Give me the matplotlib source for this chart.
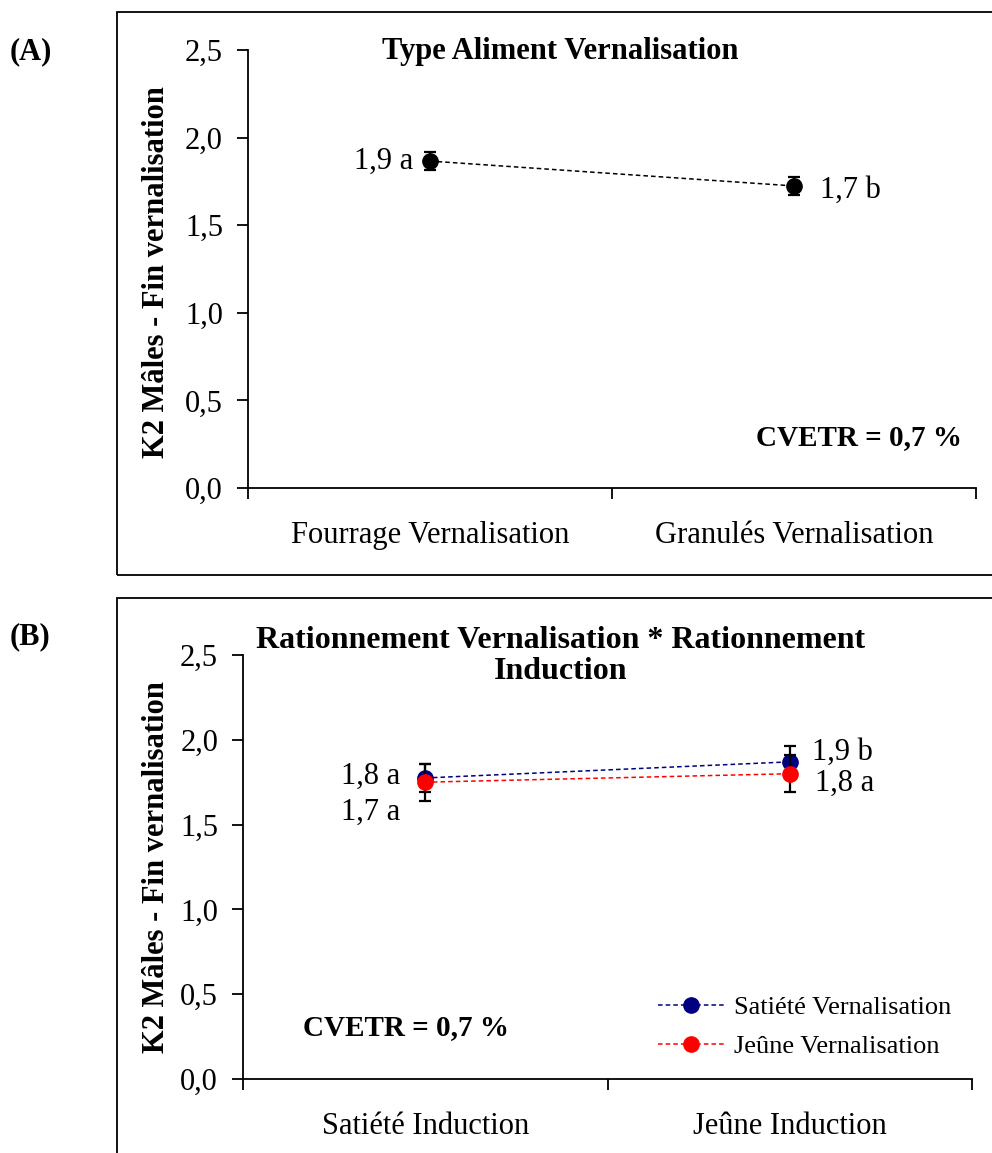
import matplotlib.pyplot as plt
from matplotlib.patches import Rectangle

plt.rcParams['font.family'] = ['Liberation Serif', 'DejaVu Serif']

# panel A data
aliment_cats = ['Fourrage Vernalisation', 'Granulés Vernalisation']
aliment_means = [1.866, 1.724]
aliment_err = [0.05, 0.05]
aliment_labels = ['1,9 a', '1,7 b']

# panel B data
induction_cats = ['Satiété Induction', 'Jeûne Induction']
satiete_means = [1.775, 1.87]
satiete_err = [0.08, 0.095]
satiete_labels = ['1,8 a', '1,9 b']
jeune_means = [1.75, 1.80]
jeune_err = [0.11, 0.11]
jeune_labels = ['1,7 a', '1,8 a']

yticks = [0.0, 0.5, 1.0, 1.5, 2.0, 2.5]
ytick_labels = ['0,0', '0,5', '1,0', '1,5', '2,0', '2,5']

W, H = 992, 1153
FS = 22
fig = plt.figure(figsize=(W / 100, H / 100), dpi=100)


def fx(px):
    return px / W


def fy(py):
    return 1 - py / H


# frames around each panel
fig.patches.append(Rectangle((fx(117), fy(575)), 1.0, fy(12) - fy(575),
                             transform=fig.transFigure, fill=False,
                             edgecolor='black', linewidth=1.3))
fig.patches.append(Rectangle((fx(117), fy(1160)), 1.0, fy(598) - fy(1160),
                             transform=fig.transFigure, fill=False,
                             edgecolor='black', linewidth=1.3))


def style_axes(ax, cats):
    ax.set_xlim(0, 2)
    ax.set_ylim(0, 2.5)
    ax.set_yticks(yticks)
    ax.set_yticklabels(ytick_labels, fontsize=FS)
    ax.set_xticks([0, 1, 2])
    ax.set_xticklabels([])
    ax.set_xticks([0.5, 1.5], minor=True)
    ax.set_xticklabels(cats, minor=True, fontsize=FS)
    ax.tick_params(axis='x', which='minor', length=0, pad=24)
    ax.tick_params(axis='x', which='major', direction='out', length=8, width=1.3)
    ax.tick_params(axis='y', direction='out', length=8, width=1.3, pad=10)
    for side in ['top', 'right']:
        ax.spines[side].set_visible(False)
    for side in ['left', 'bottom']:
        ax.spines[side].set_linewidth(1.3)
    ax.patch.set_alpha(0)


def draw_series(ax, means, err, color, label=None):
    ax.errorbar([0.5, 1.5], means, yerr=err, fmt='none', ecolor='black',
                elinewidth=1.6, capsize=4, capthick=1.6)
    ax.plot([0.5, 1.5], means, color=color, linestyle=(0, (3, 2)),
            linewidth=1.1, marker='o', markersize=11, label=label)


# panel A
axA = fig.add_axes([fx(248), fy(488), fx(976) - fx(248), fy(50) - fy(488)])
style_axes(axA, aliment_cats)
draw_series(axA, aliment_means, aliment_err, 'black')
axA.annotate(aliment_labels[0], (0.5, aliment_means[0]), xytext=(-12, 0),
             textcoords='offset points', ha='right', va='center', fontsize=FS)
axA.annotate(aliment_labels[1], (1.5, aliment_means[1]), xytext=(19, -3),
             textcoords='offset points', ha='left', va='center', fontsize=FS)
fig.text(fx(560), fy(52), 'Type Aliment Vernalisation', ha='center',
         va='center', fontsize=FS, fontweight='bold')
fig.text(fx(962), fy(438), 'CVETR = 0,7 %', ha='right', va='center',
         fontsize=21, fontweight='bold')
fig.text(fx(10), fy(52), '(A)', ha='left', va='center', fontsize=FS,
         fontweight='bold')
fig.text(fx(157), fy(272), 'K2 Mâles - Fin vernalisation', rotation=90,
         ha='center', va='center', fontsize=FS, fontweight='bold')

# panel B
axB = fig.add_axes([fx(243), fy(1079), fx(972) - fx(243), fy(655) - fy(1079)])
style_axes(axB, induction_cats)
draw_series(axB, satiete_means, satiete_err, '#000080', 'Satiété Vernalisation')
draw_series(axB, jeune_means, jeune_err, '#ff0000', 'Jeûne Vernalisation')
axB.annotate(satiete_labels[0], (0.5, satiete_means[0]), xytext=(-18, 1),
             textcoords='offset points', ha='right', va='center', fontsize=FS)
axB.annotate(jeune_labels[0], (0.5, jeune_means[0]), xytext=(-18, -22),
             textcoords='offset points', ha='right', va='center', fontsize=FS)
axB.annotate(satiete_labels[1], (1.5, satiete_means[1]), xytext=(16, 7),
             textcoords='offset points', ha='left', va='center', fontsize=FS)
axB.annotate(jeune_labels[1], (1.5, jeune_means[1]), xytext=(18, -7),
             textcoords='offset points', ha='left', va='center', fontsize=FS)
fig.text(fx(561), fy(656), 'Rationnement Vernalisation * Rationnement\nInduction',
         ha='center', va='center', fontsize=23, fontweight='bold',
         linespacing=1.12)
fig.text(fx(303), fy(1028), 'CVETR = 0,7 %', ha='left', va='center',
         fontsize=21, fontweight='bold')
fig.text(fx(10), fy(637), '(B)', ha='left', va='center', fontsize=FS,
         fontweight='bold')
fig.text(fx(157), fy(867), 'K2 Mâles - Fin vernalisation', rotation=90,
         ha='center', va='center', fontsize=FS, fontweight='bold')
axB.legend(loc='center left', bbox_to_anchor=(fx(634), fy(1027)),
           bbox_transform=fig.transFigure, frameon=False, fontsize=19,
           handlelength=2.5, labelspacing=0.6, handletextpad=0.4)

fig.savefig('out.png', dpi=100)
